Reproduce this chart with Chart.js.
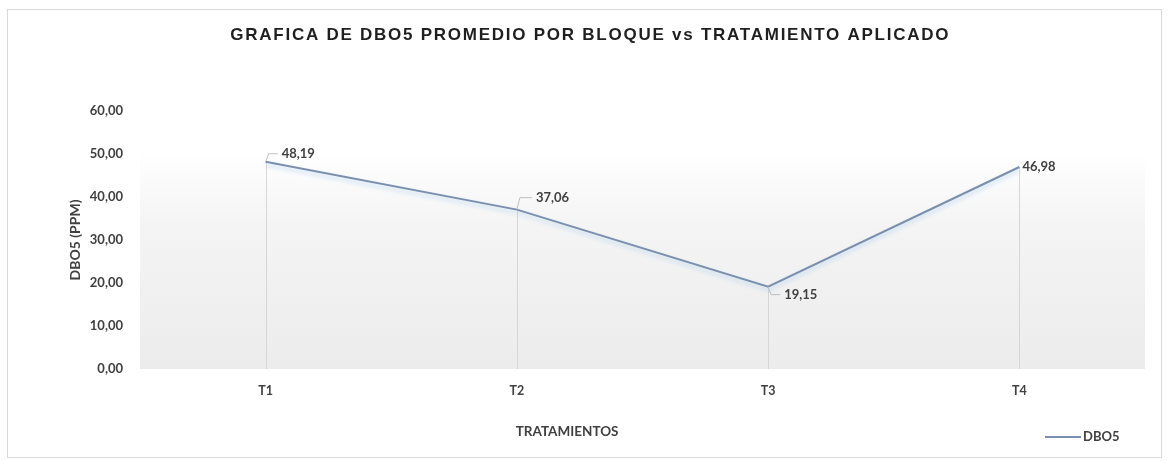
<!DOCTYPE html>
<html>
<head>
<meta charset="utf-8">
<script src="https://cdn.jsdelivr.net/npm/chart.js@4"></script>
<style>
  body { margin: 0; background: #ffffff; }
  #wrap {
    position: absolute; left: 7px; top: 9px;
    width: 1155px; height: 449px;
    border: 1px solid #d9d9d9; box-sizing: border-box;
  }
</style>
</head>
<body>
<div id="wrap"><canvas id="chart"></canvas></div>
<script>
// datos
const categorias = ['T1', 'T2', 'T3', 'T4'];
const dbo5 = [48.19, 37.06, 19.15, 46.98];
const ticksY = [0, 10, 20, 30, 40, 50, 60];

const titulo = 'GRAFICA DE DBO5 PROMEDIO POR BLOQUE vs TRATAMIENTO APLICADO';
const tituloX = 'TRATAMIENTOS';
const tituloY = 'DBO5 (PPM)';

const fuente = 'Lato, "Liberation Sans", sans-serif';
const colorTexto = '#404040';
const colorLinea = '#7a8fad';

function coma(v) {
    return v.toFixed(2).replace('.', ',');
}

// fondo degradado del area de trazado
const fondoPlot = {
    id: 'fondoPlot',
    beforeDraw(chart) {
        const { ctx, chartArea: a } = chart;
        const g = ctx.createLinearGradient(0, a.top, 0, a.bottom);
        g.addColorStop(0, '#ffffff');
        g.addColorStop(0.15, '#ffffff');
        g.addColorStop(0.45, '#f4f4f4');
        g.addColorStop(1, '#ececec');
        ctx.save();
        ctx.fillStyle = g;
        ctx.fillRect(a.left, a.top, a.right - a.left, a.bottom - a.top);
        ctx.restore();
    }
};

// lineas de caida desde cada punto + sombra de la serie
const lineasCaida = {
    id: 'lineasCaida',
    beforeDatasetsDraw(chart) {
        const { ctx, chartArea: a } = chart;
        const meta = chart.getDatasetMeta(0);
        ctx.save();
        ctx.strokeStyle = '#d6d6d6';
        ctx.lineWidth = 1;
        meta.data.forEach(p => {
            const x = Math.round(p.x) + 0.5;
            ctx.beginPath();
            ctx.moveTo(x, p.y);
            ctx.lineTo(x, a.bottom);
            ctx.stroke();
        });
        ctx.restore();
    },
    beforeDatasetDraw(chart) {
        const ctx = chart.ctx;
        ctx.save();
        ctx.shadowColor = 'rgba(170, 205, 240, 0.7)';
        ctx.shadowBlur = 4;
        ctx.shadowOffsetY = 3;
    },
    afterDatasetDraw(chart) {
        chart.ctx.restore();
    }
};

// etiquetas de datos con guia
const etiquetas = {
    id: 'etiquetas',
    afterDatasetsDraw(chart) {
        const { ctx } = chart;
        const meta = chart.getDatasetMeta(0);
        // desplazamiento de cada etiqueta [dx, dy, guia]
        const pos = [[16, -8, true], [19, -12, true], [16, 8, true], [3, 0, false]];
        ctx.save();
        ctx.font = 'bold 13px ' + fuente;
        ctx.fillStyle = colorTexto;
        ctx.textBaseline = 'middle';
        ctx.textAlign = 'left';
        ctx.strokeStyle = '#bfbfbf';
        ctx.lineWidth = 1;
        meta.data.forEach((p, i) => {
            const [dx, dy, guia] = pos[i];
            if (guia) {
                ctx.beginPath();
                ctx.moveTo(p.x, p.y);
                ctx.lineTo(p.x + 3, p.y + dy);
                ctx.lineTo(p.x + dx - 4, p.y + dy);
                ctx.stroke();
            }
            ctx.fillText(coma(dbo5[i]), p.x + dx, p.y + dy);
        });
        ctx.restore();
    }
};

// titulo, titulo del eje x y leyenda dibujados a mano
const textos = {
    id: 'textos',
    afterDraw(chart) {
        const { ctx, chartArea: a, width } = chart;
        ctx.save();
        ctx.textBaseline = 'middle';

        ctx.font = 'bold 17px "Liberation Sans", Arial, sans-serif';
        ctx.fillStyle = '#1f1f1f';
        ctx.textAlign = 'center';
        ctx.letterSpacing = '1.75px';
        ctx.fillText(titulo, width * 0.505, 25);
        ctx.letterSpacing = '0px';

        ctx.font = 'bold 13.5px ' + fuente;
        ctx.fillStyle = colorTexto;
        ctx.fillText(tituloX, a.left + (a.right - a.left) * 0.425, a.bottom + 63);

        // leyenda
        const ly = a.bottom + 68;
        const lx = a.right - 100;
        ctx.strokeStyle = colorLinea;
        ctx.lineWidth = 2;
        ctx.beginPath();
        ctx.moveTo(lx, ly);
        ctx.lineTo(lx + 36, ly);
        ctx.stroke();
        ctx.textAlign = 'left';
        ctx.font = 'bold 13px ' + fuente;
        ctx.fillText('DBO5', lx + 38, ly);
        ctx.restore();
    }
};

new Chart(document.getElementById('chart'), {
    type: 'line',
    data: {
        labels: categorias,
        datasets: [{
            label: 'DBO5',
            data: dbo5,
            borderColor: colorLinea,
            borderWidth: 2,
            pointRadius: 0,
            tension: 0,
            fill: false
        }]
    },
    options: {
        responsive: true,
        maintainAspectRatio: false,
        animation: false,
        layout: { padding: { left: 59, right: 16, top: 101, bottom: 0 } },
        plugins: {
            title: { display: false },
            legend: { display: false },
            tooltip: { enabled: false }
        },
        scales: {
            x: {
                offset: true,
                afterFit: s => { s.height = 88; },
                grid: { display: false, drawTicks: false },
                border: { display: false },
                ticks: {
                    color: colorTexto,
                    padding: 14,
                    font: { family: fuente, size: 12.5, weight: 'bold' }
                }
            },
            y: {
                min: 0,
                max: 60,
                afterBuildTicks: s => { s.ticks = ticksY.map(v => ({ value: v })); },
                afterFit: s => { s.width = 73; },
                grid: { display: false, drawTicks: false },
                border: { display: false },
                ticks: {
                    color: colorTexto,
                    padding: 17,
                    font: { family: fuente, size: 13, weight: 'bold' },
                    callback: v => coma(v)
                },
                title: {
                    display: true,
                    text: tituloY,
                    color: colorTexto,
                    font: { family: fuente, size: 14, weight: 'bold' },
                    padding: 0
                }
            }
        }
    },
    plugins: [fondoPlot, lineasCaida, etiquetas, textos]
});
</script>
</body>
</html>
